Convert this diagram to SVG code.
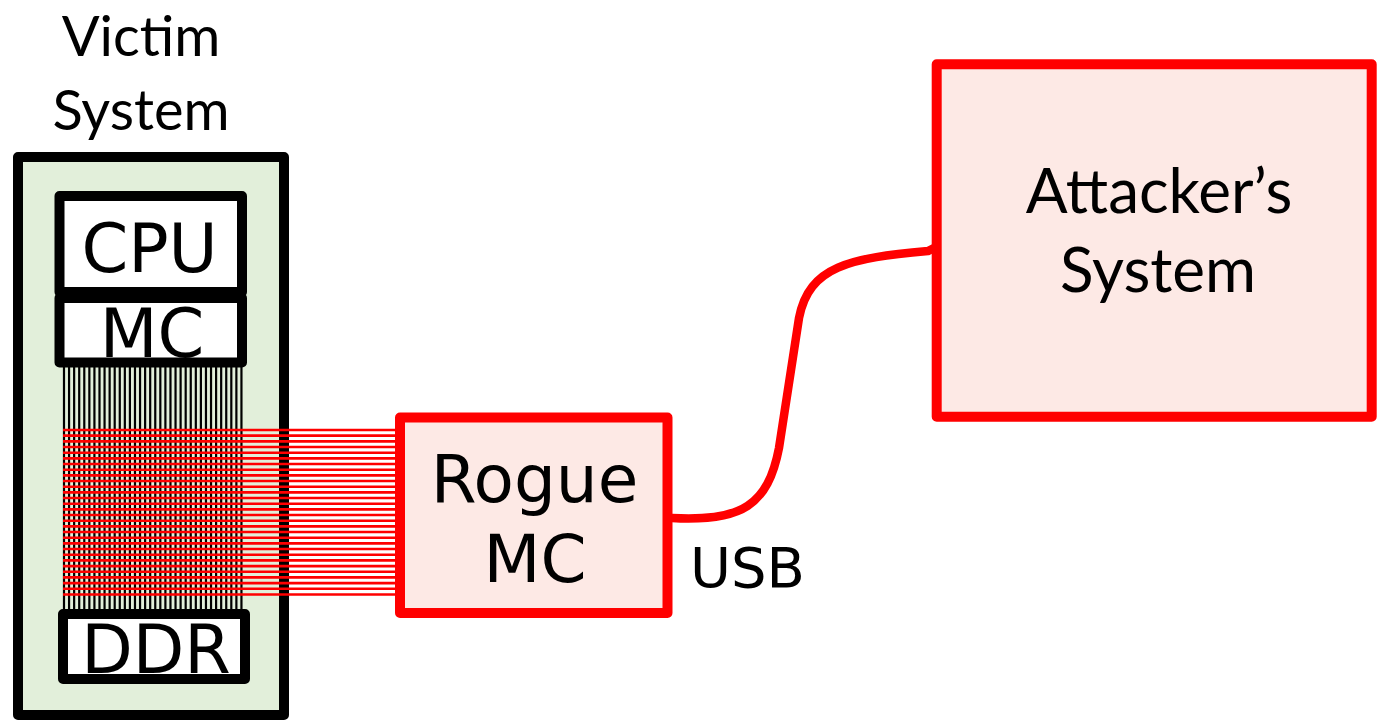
<svg xmlns="http://www.w3.org/2000/svg" width="1381" height="721" viewBox="0 0 1381 721">
  <style>
    .blk { fill: #FFFFFF; stroke: #000000; stroke-width: 10; stroke-linejoin: round; }
    .red { fill: #FDE9E5; stroke: #FF0000; stroke-width: 10; stroke-linejoin: round; }
    .dv { font-family: "DejaVu Sans", sans-serif; fill: #000000; text-anchor: middle; }
    .cal { font-family: Lato, "Liberation Sans", sans-serif; fill: #000000; text-anchor: middle; }
  </style>
  <rect width="1381" height="721" fill="#FFFFFF"/>

  <g id="victim-system">
    <rect x="18" y="157" width="266" height="558" fill="#E2EFDA" stroke="#000000" stroke-width="10" stroke-linejoin="round"/>
    <text class="cal" x="141" y="56" font-size="56">Victim</text>
    <text class="cal" x="141" y="130" font-size="56">System</text>
  </g>

  <g id="cpu">
    <rect class="blk" x="59.5" y="196" width="182.5" height="96"/>
    <text class="dv" x="149.5" y="271.7" font-size="67">CPU</text>
  </g>

  <g id="mc">
    <rect class="blk" x="59.5" y="298" width="182.5" height="64.5"/>
    <text class="dv" x="152" y="356.7" font-size="67">MC</text>
  </g>

  <g id="ddr">
    <rect class="blk" x="63" y="614" width="182" height="65"/>
    <text class="dv" x="156" y="673" font-size="67">DDR</text>
  </g>

  <g id="connectors">
    <path id="ddr-bus" fill="none" stroke="#000000" stroke-width="2.2"
      d="M64,367V609M69.07,367V609M74.14,367V609M79.21,367V609M84.28,367V609M89.35,367V609M94.42,367V609M99.49,367V609M104.56,367V609M109.63,367V609M114.7,367V609M119.77,367V609M124.84,367V609M129.91,367V609M134.98,367V609M140.05,367V609M145.12,367V609M150.19,367V609M155.26,367V609M160.33,367V609M165.4,367V609M170.47,367V609M175.54,367V609M180.61,367V609M185.68,367V609M190.75,367V609M195.82,367V609M200.89,367V609M205.96,367V609M211.03,367V609M216.1,367V609M221.17,367V609M226.24,367V609M231.31,367V609M236.38,367V609M241.45,367V609"/>
    <path id="probe-bus" fill="none" stroke="#FF0000" stroke-width="2.6"
      d="M63,430H400M63,435.67H400M63,441.34H400M63,447.01H400M63,452.68H400M63,458.35H400M63,464.02H400M63,469.69H400M63,475.36H400M63,481.03H400M63,486.7H400M63,492.37H400M63,498.04H400M63,503.71H400M63,509.38H400M63,515.05H400M63,520.72H400M63,526.39H400M63,532.06H400M63,537.73H400M63,543.4H400M63,549.07H400M63,554.74H400M63,560.41H400M63,566.08H400M63,571.75H400M63,577.42H400M63,583.09H400M63,588.76H400M63,594.43H400"/>
    <path id="usb" fill="none" stroke="#FF0000" stroke-width="8.5" stroke-linecap="round"
      d="M672,518 C742,522 768,505 779,448 L799,318 C809,266 850,258 928,251 L936,247"/>
    <text class="dv" x="690" y="586.7" font-size="56" style="text-anchor:start">USB</text>
  </g>

  <g id="rogue-mc">
    <rect class="red" x="400" y="417.5" width="267.5" height="195.5"/>
    <text class="dv" x="534.5" y="501.7" font-size="66">Rogue</text>
    <text class="dv" x="535" y="581.7" font-size="66">MC</text>
  </g>

  <g id="attacker-system">
    <rect class="red" x="936.7" y="64.3" width="435" height="352.4"/>
    <text class="cal" x="1159" y="212.7" font-size="62">Attacker’s</text>
    <text class="cal" x="1158" y="291.7" font-size="62">System</text>
  </g>
</svg>
